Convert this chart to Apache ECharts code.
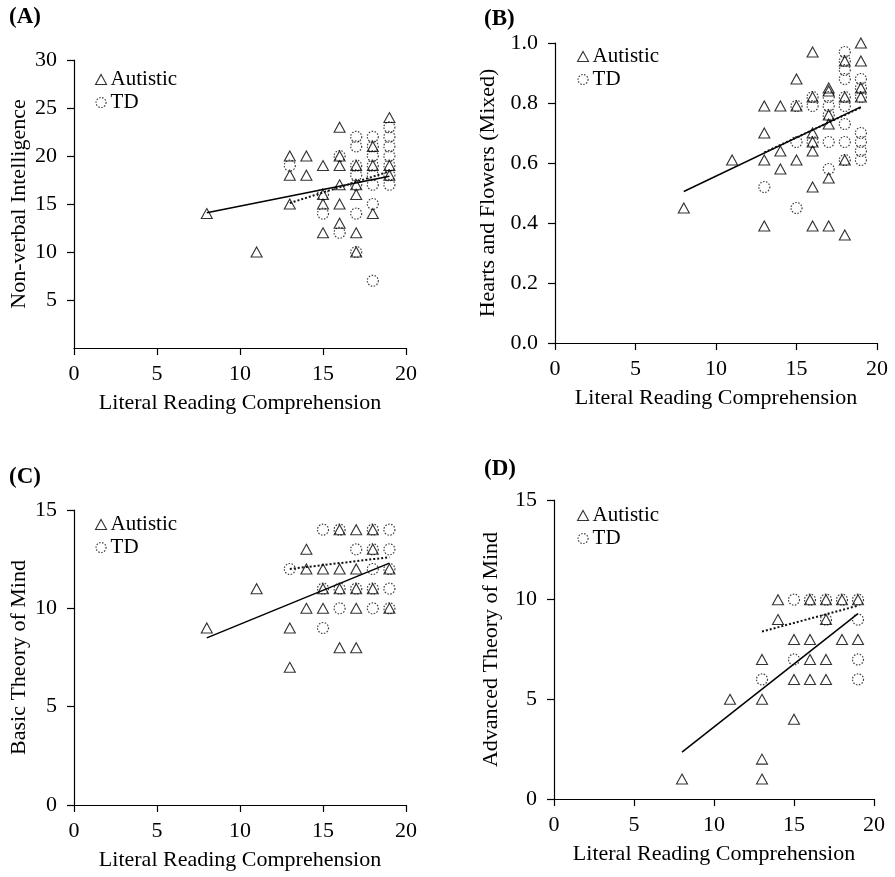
<!DOCTYPE html>
<html><head><meta charset="utf-8">
<script src="https://cdn.jsdelivr.net/npm/echarts@6/dist/echarts.min.js"></script>
<style>html,body{margin:0;padding:0;background:#fff}#c{width:895px;height:877px}</style>
</head><body><div id="c"></div>
<script>
// ---------- data ----------
const xTicks = [0, 5, 10, 15, 20];
const xName = 'Literal Reading Comprehension';
const panelLabels = ['(A)', '(B)', '(C)', '(D)'];
const yNames = ['Non-verbal Intelligence', 'Hearts and Flowers (Mixed)', 'Basic Theory of Mind', 'Advanced Theory of Mind'];
const yMax = [30, 1.0, 15, 15];
const yStep = [5, 0.2, 5, 5];

// Panel A: Non-verbal Intelligence
const aAutistic = [[8,14],[11,10],[13,20],[13,18],[13,15],[14,20],[14,18],[15,19],[15,16],[15,15],[15,12],
  [16,23],[16,20],[16,19],[16,17],[16,15],[16,13],[17,19],[17,17],[17,16],[17,12],[17,10],
  [18,21],[18,19],[18,14],[19,24],[19,19],[19,18]];
const aTD = [[13,19],[15,16],[15,14],[16,20],[16,12],[17,22],[17,21],[17,19],[17,18],[17,17],[17,14],[17,10],
  [18,22],[18,21],[18,20],[18,19],[18,18],[18,17],[18,15],[18,7],
  [19,23],[19,22],[19,21],[19,20],[19,19],[19,18],[19,17]];
const aFitAutistic = [[8,14.1],[19,17.9]];
const aFitTD = [[13,15.1],[19,18.4]];

// Panel B: Hearts and Flowers (Mixed)
const bAutistic = [[8,0.45],[11,0.61],[13,0.79],[13,0.70],[13,0.61],[13,0.39],[14,0.79],[14,0.64],[14,0.58],
  [15,0.88],[15,0.79],[15,0.61],[16,0.97],[16,0.82],[16,0.70],[16,0.67],[16,0.64],[16,0.52],[16,0.39],
  [17,0.85],[17,0.84],[17,0.76],[17,0.73],[17,0.55],[17,0.39],[18,0.94],[18,0.82],[18,0.61],[18,0.36],
  [19,1.0],[19,0.94],[19,0.85],[19,0.82]];
const bTD = [[13,0.52],[15,0.79],[15,0.67],[15,0.45],[16,0.82],[16,0.79],[16,0.67],
  [17,0.82],[17,0.79],[17,0.76],[17,0.67],[17,0.58],
  [18,0.97],[18,0.94],[18,0.91],[18,0.88],[18,0.82],[18,0.79],[18,0.73],[18,0.67],[18,0.61],
  [19,0.88],[19,0.85],[19,0.82],[19,0.70],[19,0.67],[19,0.64],[19,0.61]];
const bFitAutistic = [[8,0.505],[19,0.787]];
const bFitTD = [[13,0.635],[19,0.785]];

// Panel C: Basic Theory of Mind
const cAutistic = [[8,9],[11,11],[13,9],[13,7],[14,13],[14,12],[14,10],[15,12],[15,11],[15,10],
  [16,14],[16,12],[16,11],[16,8],[17,14],[17,12],[17,11],[17,10],[17,8],
  [18,14],[18,13],[18,11],[19,12],[19,10]];
const cTD = [[13,12],[15,14],[15,11],[15,9],[16,14],[16,11],[16,10],[17,13],[17,11],
  [18,14],[18,13],[18,12],[18,11],[18,10],[19,14],[19,13],[19,12],[19,11],[19,10]];
const cFitAutistic = [[8,8.5],[19,12.3]];
const cFitTD = [[13,12.0],[19,12.6]];

// Panel D: Advanced Theory of Mind
const dAutistic = [[8,1],[11,5],[13,7],[13,5],[13,2],[13,1],[14,10],[14,9],[15,8],[15,6],[15,4],
  [16,10],[16,8],[16,7],[16,6],[17,10],[17,9],[17,7],[17,6],[18,10],[18,8],[19,10],[19,8]];
const dTD = [[13,6],[15,10],[15,7],[16,10],[17,10],[17,9],[18,10],[19,10],[19,9],[19,7],[19,6]];
const dFitAutistic = [[8,2.35],[19,9.3]];
const dFitTD = [[13,8.4],[19,9.7]];

// ---------- layout ----------
const FONT = '"Liberation Serif", "Times New Roman", serif';
const grids = [
  {left: 74, top: 60, width: 332, height: 288},
  {left: 555, top: 43, width: 322, height: 300},
  {left: 74, top: 510, width: 332, height: 295},
  {left: 554, top: 500, width: 320, height: 299}
];
const yNameGaps = [44, 56, 44, 52];
const legendPos = [[95, 69], [577, 46], [95, 514], [577, 505]];
const labelPos = [[9, 6], [484, 8], [9, 466], [484, 458]];

const autisticSets = [aAutistic, bAutistic, cAutistic, dAutistic];
const tdSets = [aTD, bTD, cTD, dTD];
const fitA = [aFitAutistic, bFitAutistic, cFitAutistic, dFitAutistic];
const fitT = [aFitTD, bFitTD, cFitTD, dFitTD];

const triStyle = {color: 'rgba(0,0,0,0)', borderColor: '#000', borderWidth: 1.1};
const cirStyle = {color: 'rgba(0,0,0,0)', borderColor: '#111', borderWidth: 1.2, borderType: [1.5, 1.5]};

const option = {
  animation: false,
  backgroundColor: '#fff',
  title: panelLabels.map((t, i) => ({
    text: t, left: labelPos[i][0], top: labelPos[i][1], padding: 0,
    textStyle: {fontFamily: FONT, fontWeight: 'bold', fontSize: 23, color: '#000'}
  })),
  legend: legendPos.map((p, i) => ({
    left: p[0], top: p[1], orient: 'vertical', padding: 0, itemGap: 2,
    itemWidth: 11, itemHeight: 10, selectedMode: false,
    textStyle: {fontFamily: FONT, fontSize: 21, color: '#000', padding: [0, 0, 0, -1]},
    data: [
      {name: 'Autistic', icon: 'triangle', itemStyle: triStyle},
      {name: 'TD', icon: 'circle', itemStyle: cirStyle}
    ]
  })),
  grid: grids,
  xAxis: grids.map((g, i) => ({
    gridIndex: i, type: 'value', min: 0, max: 20, interval: 5,
    name: xName, nameLocation: 'middle', nameGap: 44,
    nameTextStyle: {fontFamily: FONT, fontSize: 22, color: '#000'},
    axisLine: {show: true, lineStyle: {color: '#000', width: 1.2}},
    axisTick: {show: true, length: 7, lineStyle: {color: '#000', width: 1.2}},
    axisLabel: {fontFamily: FONT, fontSize: 22, color: '#000', margin: 15,
      customValues: xTicks},
    splitLine: {show: false}
  })),
  yAxis: grids.map((g, i) => ({
    gridIndex: i, type: 'value', min: 0, max: yMax[i], interval: yStep[i],
    name: yNames[i], nameLocation: 'middle', nameGap: yNameGaps[i], nameRotate: 90,
    nameTextStyle: {fontFamily: FONT, fontSize: 22, color: '#000'},
    axisLine: {show: true, lineStyle: {color: '#000', width: 1.2}},
    axisTick: {show: true, length: 7, lineStyle: {color: '#000', width: 1.2}},
    axisLabel: {fontFamily: FONT, fontSize: 22, color: '#000', margin: 17,
      showMinLabel: i !== 0,
      formatter: v => (i === 1 ? v.toFixed(1) : String(v))},
    splitLine: {show: false}
  })),
  series: []
};

for (let i = 0; i < 4; i++) {
  option.series.push({
    type: 'line', xAxisIndex: i, yAxisIndex: i, data: fitA[i], showSymbol: false, symbol: 'none',
    lineStyle: {color: '#000', width: 1.5}, silent: true, z: 1
  });
  option.series.push({
    type: 'line', xAxisIndex: i, yAxisIndex: i, data: fitT[i], showSymbol: false, symbol: 'none',
    lineStyle: {color: '#111', width: 2, type: [2, 2]}, silent: true, z: 1
  });
  option.series.push({
    name: 'Autistic', type: 'scatter', xAxisIndex: i, yAxisIndex: i, data: autisticSets[i],
    symbol: 'triangle', symbolSize: [11, 10], itemStyle: triStyle, z: 3
  });
  option.series.push({
    name: 'TD', type: 'scatter', xAxisIndex: i, yAxisIndex: i, data: tdSets[i],
    symbol: 'circle', symbolSize: 11, itemStyle: cirStyle, z: 2
  });
}

const chart = echarts.init(document.getElementById('c'), null, {renderer: 'canvas'});
chart.setOption(option);
</script>
</body></html>
